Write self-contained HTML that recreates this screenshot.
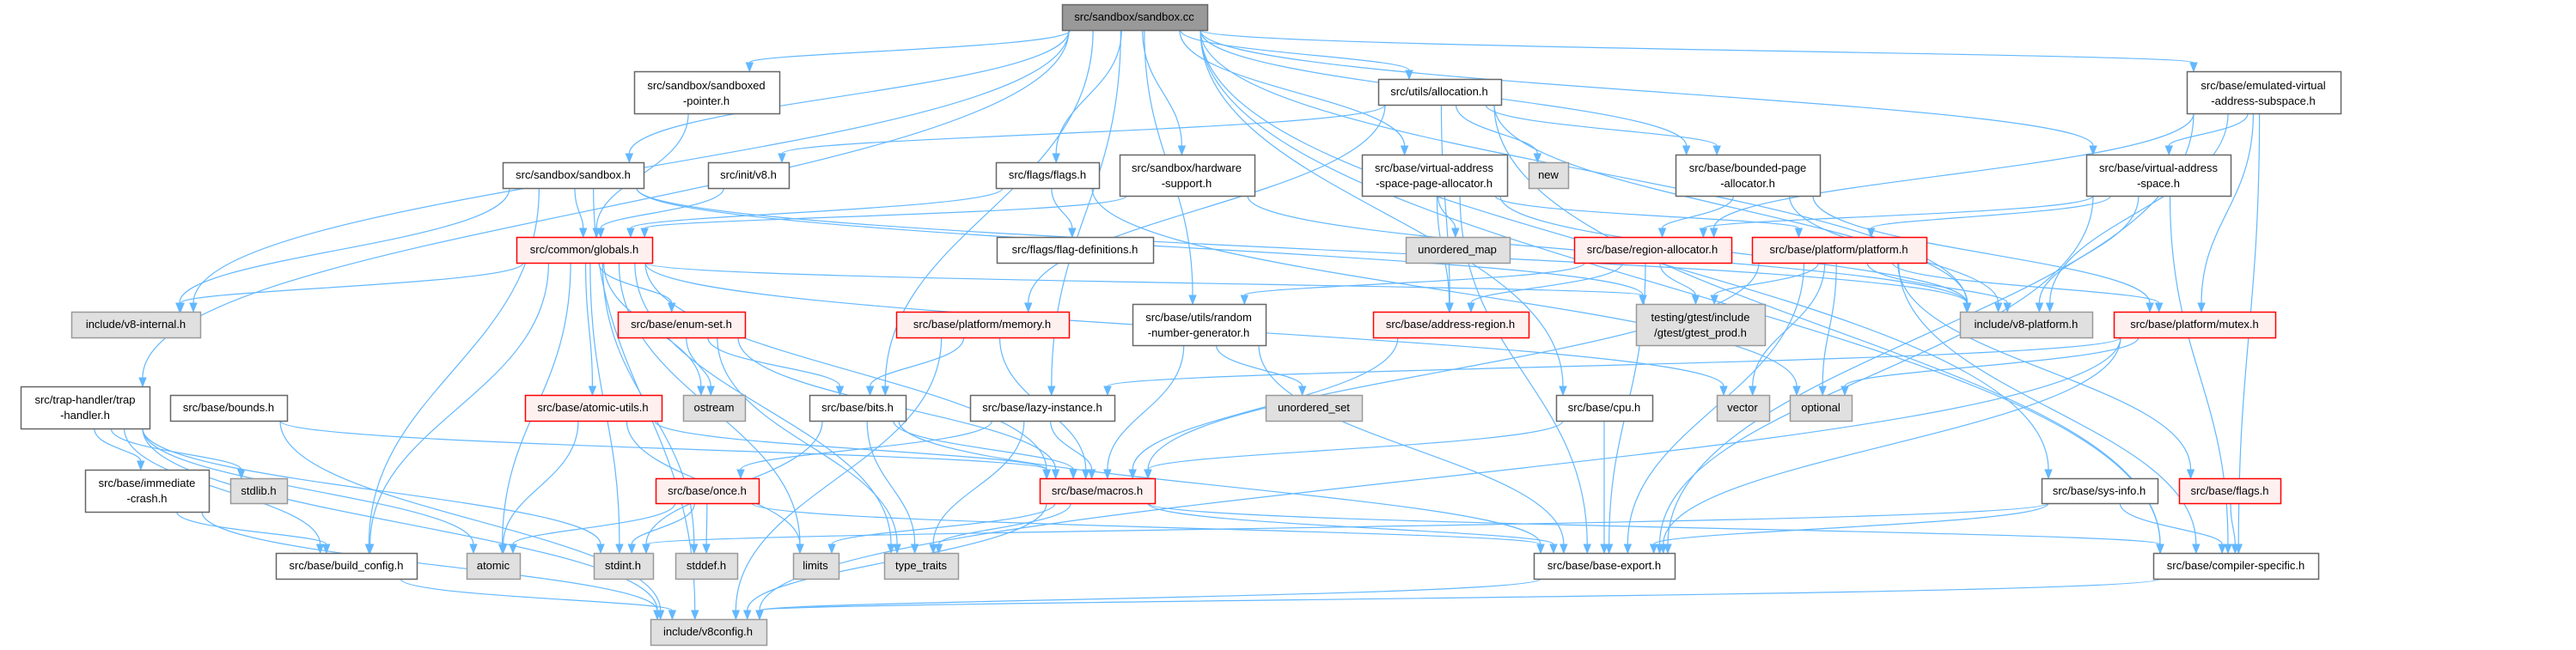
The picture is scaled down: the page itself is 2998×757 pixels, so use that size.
<!DOCTYPE html>
<html><head><meta charset="utf-8"><style>
html,body{margin:0;padding:0;background:#fff;}
svg{display:block;}
text{font-family:"Liberation Sans",sans-serif;font-size:13px;fill:#000;text-anchor:middle;}
</style></head><body>
<svg id="s" width="2998" height="757" viewBox="0 0 2998 757" xmlns="http://www.w3.org/2000/svg">
<g id="edges" fill="none" stroke="#63b8ff" stroke-width="1.2"></g>
<g id="heads" fill="#63b8ff" stroke="#63b8ff"></g>
<g id="nodes"></g>
<g id="labels">
<text x="1320" y="24">src/sandbox/sandbox.cc</text>
<text x="822" y="104">src/sandbox/sandboxed</text><text x="822" y="122">-pointer.h</text>
<text x="667" y="208">src/sandbox/sandbox.h</text>
<text x="871" y="208">src/init/v8.h</text>
<text x="680" y="295">src/common/globals.h</text>
<text x="158" y="382">include/v8-internal.h</text>
<text x="793" y="382">src/base/enum-set.h</text>
<text x="1675" y="111">src/utils/allocation.h</text>
<text x="1219" y="208">src/flags/flags.h</text>
<text x="1381" y="200">src/sandbox/hardware</text><text x="1381" y="218">-support.h</text>
<text x="1669" y="200">src/base/virtual-address</text><text x="1669" y="218">-space-page-allocator.h</text>
<text x="1802" y="208">new</text>
<text x="2034" y="200">src/base/bounded-page</text><text x="2034" y="218">-allocator.h</text>
<text x="1251" y="295">src/flags/flag-definitions.h</text>
<text x="1696" y="295">unordered_map</text>
<text x="1923" y="295">src/base/region-allocator.h</text>
<text x="1143" y="382">src/base/platform/memory.h</text>
<text x="1395" y="374">src/base/utils/random</text><text x="1395" y="392">-number-generator.h</text>
<text x="1688" y="382">src/base/address-region.h</text>
<text x="1979" y="374">testing/gtest/include</text><text x="1979" y="392">/gtest/gtest_prod.h</text>
<text x="2634" y="104">src/base/emulated-virtual</text><text x="2634" y="122">-address-subspace.h</text>
<text x="2512" y="200">src/base/virtual-address</text><text x="2512" y="218">-space.h</text>
<text x="2140" y="295">src/base/platform/platform.h</text>
<text x="2358" y="382">include/v8-platform.h</text>
<text x="2554" y="382">src/base/platform/mutex.h</text>
<text x="99" y="470">src/trap-handler/trap</text><text x="99" y="488">-handler.h</text>
<text x="266" y="479">src/base/bounds.h</text>
<text x="690" y="479">src/base/atomic-utils.h</text>
<text x="831" y="479">ostream</text>
<text x="998" y="479">src/base/bits.h</text>
<text x="171" y="567">src/base/immediate</text><text x="171" y="585">-crash.h</text>
<text x="301" y="576">stdlib.h</text>
<text x="823" y="576">src/base/once.h</text>
<text x="403" y="663">src/base/build_config.h</text>
<text x="574" y="663">atomic</text>
<text x="725" y="663">stdint.h</text>
<text x="822" y="663">stddef.h</text>
<text x="949" y="663">limits</text>
<text x="824" y="740">include/v8config.h</text>
<text x="1213" y="479">src/base/lazy-instance.h</text>
<text x="1529" y="479">unordered_set</text>
<text x="1867" y="479">src/base/cpu.h</text>
<text x="1277" y="576">src/base/macros.h</text>
<text x="1072" y="663">type_traits</text>
<text x="1867" y="663">src/base/base-export.h</text>
<text x="2028" y="479">vector</text>
<text x="2119" y="479">optional</text>
<text x="2443" y="576">src/base/sys-info.h</text>
<text x="2595" y="576">src/base/flags.h</text>
<text x="2602" y="663">src/base/compiler-specific.h</text>
</g>
</svg>
<script>
const N={
cc:[1236,5,1405,35,'d'],sp:[738,83,907,132,'w'],sh:[585,189,749,219,'w'],iv:[824,189,918,219,'w'],
gl:[601,276,759,306,'r'],vi:[83,363,233,393,'g'],es:[719,363,867,393,'r'],al:[1604,92,1747,122,'w'],
fl:[1159,189,1279,219,'w'],hw:[1303,180,1460,228,'w'],vp:[1585,180,1754,228,'w'],nw:[1779,189,1825,219,'g'],
bp:[1950,180,2118,228,'w'],fd:[1160,276,1342,306,'w'],um:[1636,276,1757,306,'g'],ra:[1832,276,2015,306,'r'],
me:[1043,363,1244,393,'r'],rn:[1318,354,1473,402,'w'],ar:[1598,363,1779,393,'r'],gt:[1904,354,2054,402,'g'],
ev:[2545,83,2724,132,'w'],vs:[2428,180,2596,228,'w'],pl:[2039,276,2242,306,'r'],vpl:[2281,363,2435,393,'g'],
mu:[2460,363,2648,393,'r'],th:[24,450,174,499,'w'],bo:[198,460,334,490,'w'],au:[611,460,770,490,'r'],
os:[795,460,867,490,'g'],bi:[942,460,1054,490,'w'],ic:[99,547,243,596,'w'],sl:[268,557,334,586,'g'],
on:[763,557,883,586,'r'],bc:[321,644,485,674,'w'],at:[543,644,605,674,'g'],si:[691,644,760,674,'g'],
sd:[786,644,858,674,'g'],li:[923,644,976,674,'g'],vc:[757,721,892,751,'g'],lz:[1129,460,1297,490,'w'],
us:[1473,460,1585,490,'g'],cp:[1811,460,1923,490,'w'],ma:[1210,557,1344,586,'r'],tt:[1029,644,1115,674,'g'],
be:[1785,644,1949,674,'w'],ve:[1998,460,2059,490,'g'],op:[2083,460,2155,490,'g'],sy:[2376,557,2511,586,'w'],
bf:[2536,557,2654,586,'r'],cs:[2506,644,2698,674,'w']};
const E={
cc:'sp sh vi th fl hw al vp bp vs ev bi lz rn cp sy cs vpl',
sp:'gl',sh:'gl vi vc bc vpl gt',iv:'gl',fl:'gl fd op',hw:'gl vpl',
al:'iv nw me ar bp vpl cs',vp:'um pl vpl be ar',bp:'ra vpl mu',vs:'ra pl vpl be cs',
ev:'ra vs mu vpl be cs',ra:'ar gt rn be',pl:'gt vpl mu ve op be cs bf ma',
gl:'vi es au os bc ma si sd tt at gt li ve',es:'os bi tt ma',au:'at ma li',bi:'ma tt be si',
me:'bi ma vc',rn:'us ma be',ar:'ma',lz:'on tt ma',cp:'ma be',mu:'lz op be vc',
th:'ic sl bc at si vc',bo:'ma vc',ic:'bc vc',on:'at si sd be',bc:'vc',ma:'tt li be cs vc',
be:'vc',sy:'si be cs',bf:'cs',cs:'vc'};
const NS='http://www.w3.org/2000/svg';
const ng=document.getElementById('nodes'),eg=document.getElementById('edges'),hg=document.getElementById('heads');
const sty={d:['#999999','#666666'],w:['#ffffff','#666666'],g:['#e0e0e0','#999999'],r:['#fff0f0','#ff0000']};
for(const k in N){const [x1,y1,x2,y2,t]=N[k];const r=document.createElementNS(NS,'rect');
r.setAttribute('x',x1+.5);r.setAttribute('y',y1+.5);r.setAttribute('width',x2-x1);r.setAttribute('height',y2-y1);
r.setAttribute('fill',sty[t][0]);r.setAttribute('stroke',sty[t][1]);r.setAttribute('stroke-width','1.5');ng.appendChild(r);}
const cl=(v,a,b)=>Math.max(a,Math.min(b,v));
for(const s in E){for(const t of E[s].split(' ')){const A=N[s],B=N[t];
const acx=(A[0]+A[2])/2,bcx=(B[0]+B[2])/2;let sx,sy,tx,ty,c1x,c1y,c2x,c2y;
if(B[1]>A[3]+8){sx=cl(acx+(bcx-acx)*0.15,A[0]+8,A[2]-8);sy=A[3];tx=cl(bcx+(acx-bcx)*0.1,B[0]+8,B[2]-8);ty=B[1];
const d=(ty-sy)*0.45;c1x=sx;c1y=sy+d;c2x=tx;c2y=ty-d;}
else{const acy=(A[1]+A[3])/2,bcy=(B[1]+B[3])/2;if(bcx<acx){sx=A[0];tx=B[2];}else{sx=A[2];tx=B[0];}
sy=acy;ty=bcy;const d=(tx-sx)*0.4;c1x=sx+d;c1y=sy;c2x=tx-d;c2y=ty;}
const p=document.createElementNS(NS,'path');
let dx=tx-c2x,dy=ty-c2y,l=Math.hypot(dx,dy)||1;dx/=l;dy/=l;
const ex=tx-dx*10,ey=ty-dy*10;
p.setAttribute('d',`M${sx},${sy} C${c1x},${c1y} ${c2x},${c2y} ${ex},${ey}`);eg.appendChild(p);
const h=document.createElementNS(NS,'polygon');
h.setAttribute('points',`${tx},${ty} ${ex-dy*4},${ey+dx*4} ${ex+dy*4},${ey-dx*4}`);hg.appendChild(h);}}
</script>
</body></html>
